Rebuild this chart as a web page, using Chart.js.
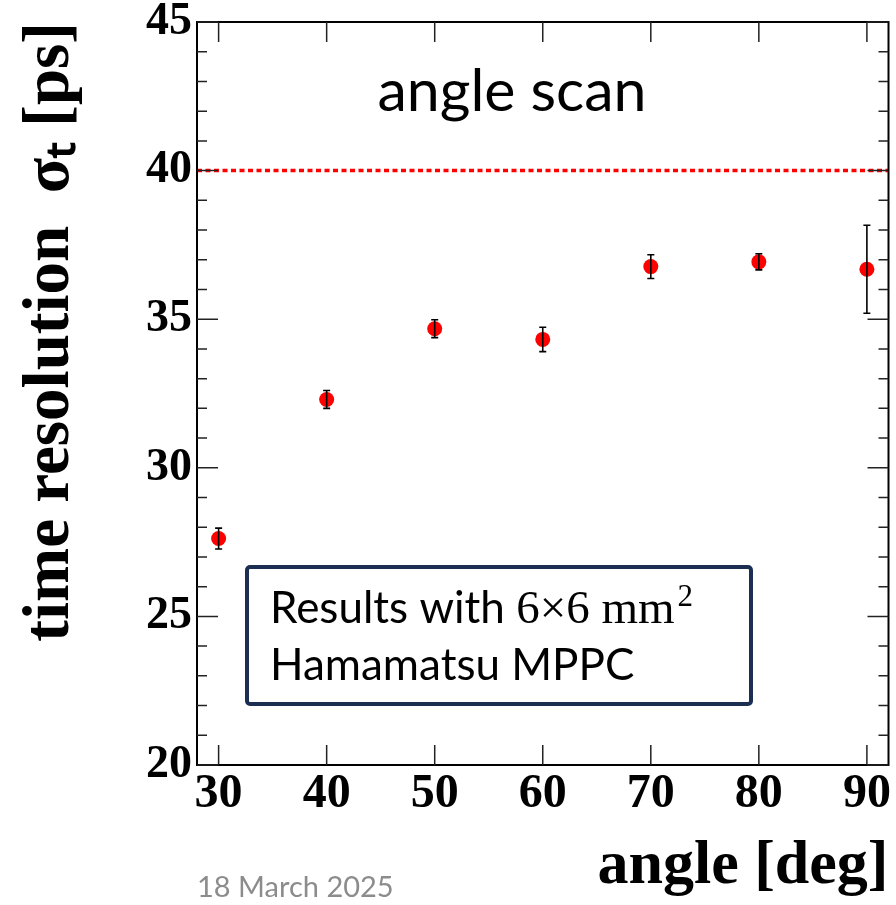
<!DOCTYPE html>
<html><head><meta charset="utf-8">
<script src="https://cdn.jsdelivr.net/npm/chart.js@4.4.0/dist/chart.umd.min.js"></script>
<style>html,body{margin:0;padding:0;background:#fff}#wrap{width:896px;height:905px;position:relative}</style>
</head><body><div id="wrap"><canvas id="c"></canvas></div>
<script>
// ---- data ----
const angles = [30, 40, 50, 60, 70, 80, 90];
const resolution = [27.62, 32.3, 34.68, 34.32, 36.77, 36.93, 36.68];
const errors = [0.35, 0.3, 0.3, 0.41, 0.4, 0.27, 1.48];
const xTicks = [30, 40, 50, 60, 70, 80, 90];
const yTicks = [20, 25, 30, 35, 40, 45];
const yMinorTicks = [21, 22, 23, 24, 26, 27, 28, 29, 31, 32, 33, 34, 36, 37, 38, 39, 41, 42, 43, 44];
const refLevel = 40;
const xRange = [28, 92];
const yRange = [20, 45];
const plotTitle = 'angle scan';
const boxLine1 = 'Results with ';
const boxMath = '6×6 mm';
const boxSup = '2';
const boxLine2 = 'Hamamatsu MPPC';
const dateText = '18 March 2025';

const pts = angles.map((a, i) => ({x: a, y: resolution[i]}));
const refPts = [{x: xRange[0], y: refLevel}, {x: xRange[1], y: refLevel}];

const decor = {
  id: 'decor',
  afterDatasetsDraw(chart) {
    const ctx = chart.ctx, xs = chart.scales.x, ys = chart.scales.y;
    ctx.save();
    ctx.strokeStyle = '#000'; ctx.lineWidth = 1.6;
    angles.forEach((a, i) => {
      const px = xs.getPixelForValue(a);
      const y1 = ys.getPixelForValue(resolution[i] - errors[i]);
      const y2 = ys.getPixelForValue(resolution[i] + errors[i]);
      ctx.beginPath();
      ctx.moveTo(px, y1); ctx.lineTo(px, y2);
      ctx.moveTo(px - 3.5, y1); ctx.lineTo(px + 3.5, y1);
      ctx.moveTo(px - 3.5, y2); ctx.lineTo(px + 3.5, y2);
      ctx.stroke();
    });
    ctx.restore();
  },
  afterDraw(chart) {
    const ctx = chart.ctx, xs = chart.scales.x, ys = chart.scales.y;
    const {left, right, top, bottom} = chart.chartArea;
    ctx.save();
    // frame
    ctx.strokeStyle = '#000'; ctx.lineWidth = 2;
    ctx.strokeRect(left, top, right - left, bottom - top);
    ctx.lineWidth = 1.5; ctx.strokeStyle = '#222';
    ctx.beginPath();
    xTicks.forEach(v => {
      const px = xs.getPixelForValue(v);
      ctx.moveTo(px, bottom); ctx.lineTo(px, bottom - 20);
      ctx.moveTo(px, top); ctx.lineTo(px, top + 20);
    });
    yTicks.forEach(v => {
      const py = ys.getPixelForValue(v);
      ctx.moveTo(left, py); ctx.lineTo(left + 21, py);
      ctx.moveTo(right, py); ctx.lineTo(right - 21, py);
    });
    yMinorTicks.forEach(v => {
      const py = ys.getPixelForValue(v);
      ctx.moveTo(left, py); ctx.lineTo(left + 10, py);
      ctx.moveTo(right, py); ctx.lineTo(right - 10, py);
    });
    ctx.stroke();
    // plot title text
    ctx.fillStyle = '#000';
    ctx.font = '59px Lato';
    ctx.textAlign = 'center'; ctx.textBaseline = 'alphabetic';
    ctx.fillText(plotTitle, 512, 111);
    // box
    ctx.fillStyle = '#fff';
    ctx.strokeStyle = '#1c2f52'; ctx.lineWidth = 4;
    ctx.beginPath();
    ctx.roundRect(247, 567, 504, 137, 3);
    ctx.fill(); ctx.stroke();
    ctx.fillStyle = '#000';
    ctx.textAlign = 'left';
    ctx.font = '44px Lato';
    ctx.fillText(boxLine1, 270, 623);
    let w = ctx.measureText(boxLine1).width;
    ctx.font = '47px "Liberation Serif"';
    ctx.fillText(boxMath, 270 + w, 623);
    let w2 = ctx.measureText(boxMath).width;
    ctx.font = '31px "Liberation Serif"';
    ctx.fillText(boxSup, 270 + w + w2 + 3, 606);
    ctx.font = '44px Lato';
    ctx.fillText(boxLine2, 270, 680);
    // date
    ctx.fillStyle = '#8c8c8c';
    ctx.font = '29px Lato';
    ctx.fillText(dateText, 197, 897);
    ctx.restore();
  }
};

new Chart(document.getElementById('c'), {
  data: {
    datasets: [
      {type: 'line', data: refPts, borderColor: '#ff0000', borderWidth: 3.5, borderDash: [5, 3.5], pointRadius: 0, fill: false, order: 2},
      {type: 'scatter', data: pts, backgroundColor: '#ff0000', borderWidth: 0, pointRadius: 7.5, order: 1}
    ]
  },
  options: {
    responsive: true, maintainAspectRatio: false, animation: false,
    layout: {padding: {top: 22, right: 7, left: 0, bottom: 0}},
    plugins: {legend: {display: false}, tooltip: {enabled: false}},
    scales: {
      x: {
        type: 'linear', min: xRange[0], max: xRange[1],
        afterBuildTicks: s => { s.ticks = xTicks.map(v => ({value: v})); },
        afterFit: s => { s.height = 140; s.paddingLeft = 0; s.paddingRight = 0; },
        grid: {display: false, drawTicks: false},
        border: {display: false},
        ticks: {color: '#000', padding: 1, font: {family: '"Liberation Serif"', weight: 'bold', size: 48}, maxRotation: 0, autoSkip: false},
        title: {display: true, text: 'angle [deg]', align: 'end', color: '#000', padding: {top: 0, bottom: 1}, font: {family: '"Liberation Serif"', weight: 'bold', size: 62}}
      },
      y: {
        type: 'linear', min: yRange[0], max: yRange[1],
        afterBuildTicks: s => { s.ticks = yTicks.map(v => ({value: v})); },
        afterFit: s => { s.width = 197; s.paddingTop = 0; s.paddingBottom = 0; },
        grid: {display: false, drawTicks: false},
        border: {display: false},
        ticks: {color: '#000', padding: 5, font: {family: '"Liberation Serif"', weight: 'bold', size: 46}},
        title: {display: true, text: 'time resolution  σₜ [ps]', align: 'end', color: '#000', padding: {top: 12, bottom: 0}, font: {family: '"Liberation Serif"', weight: 'bold', size: 65}}
      }
    }
  },
  plugins: [decor]
});
</script>
</body></html>
